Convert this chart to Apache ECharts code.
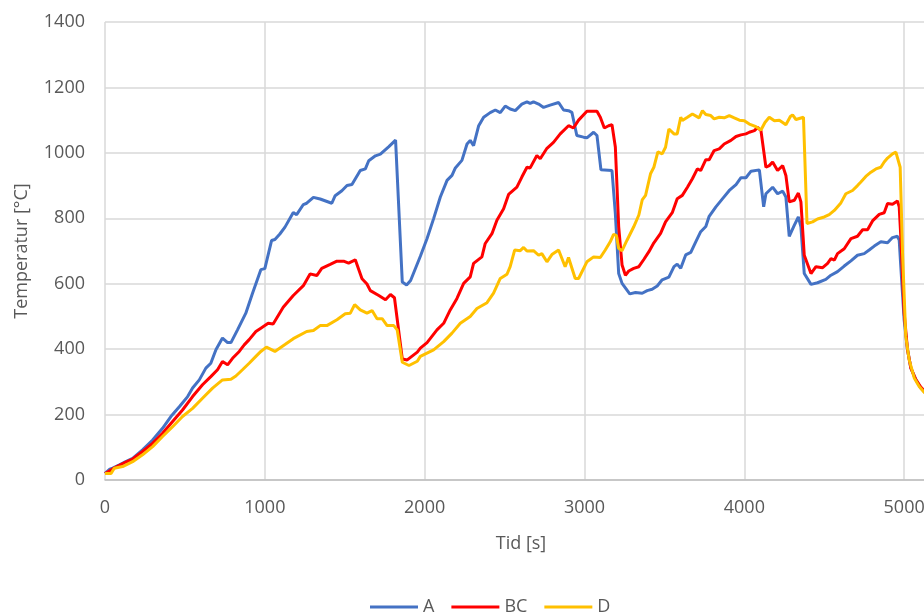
<!DOCTYPE html>
<html>
<head>
<meta charset="utf-8">
<script src="https://cdn.jsdelivr.net/npm/echarts@6/dist/echarts.min.js"></script>
<style>
  html, body { margin: 0; padding: 0; background: #fff; }
  #chart { width: 924px; height: 614px; }
</style>
</head>
<body>
<div id="chart"></div>
<script>
// Tid [s] and temperatur [°C] for each measuring point
const timeA = [0,30,48,90,130,173,235,298,360,412,465,517,548,590,631,662,694,735,767,788,829,881,923,975,1000,1042,1063,1094,1126,1178,1199,1241,1262,1304,1346,1419,1440,1482,1514,1545,1597,1629,1650,1692,1723,1776,1818,1860,1887,1912,1973,2015,2056,2098,2140,2171,2192,2233,2265,2285,2306,2338,2369,2410,2442,2473,2504,2535,2567,2608,2640,2660,2681,2713,2744,2785,2838,2869,2900,2921,2952,2994,3015,3057,3078,3103,3172,3193,3214,3235,3283,3319,3361,3392,3423,3455,3486,3528,3560,3580,3602,3633,3665,3696,3727,3759,3780,3822,3864,3906,3948,3979,4010,4042,4094,4121,4135,4177,4208,4240,4260,4281,4313,4338,4354,4375,4417,4458,4510,4542,4583,4625,4667,4708,4750,4781,4813,4854,4896,4927,4958,4969,4979,5000,5021,5042,5073,5104,5129];
const tempA = [20,33,36,46,56,66,92,122,158,194,224,255,281,306,342,357,398,434,420,420,459,510,571,643,646,732,735,752,773,818,811,842,846,864,859,846,869,884,900,903,946,951,976,991,996,1019,1039,605,596,610,684,738,799,865,916,931,954,977,1027,1038,1022,1083,1109,1123,1131,1123,1143,1134,1129,1149,1156,1151,1156,1149,1139,1146,1154,1131,1129,1124,1053,1048,1046,1063,1053,948,946,814,631,601,569,573,571,579,583,593,612,620,652,660,647,688,696,728,759,775,806,835,860,885,903,924,924,944,948,835,875,895,875,883,865,745,779,804,774,631,598,603,613,626,637,654,670,687,692,703,715,728,725,741,745,733,652,489,398,342,307,281,268];

const timeBC = [0,30,48,90,130,173,235,298,360,423,485,548,610,662,704,735,767,798,840,871,902,944,975,1000,1021,1052,1115,1178,1241,1283,1325,1356,1409,1451,1493,1524,1566,1608,1639,1660,1713,1755,1786,1811,1860,1891,1954,1973,2015,2077,2119,2160,2202,2244,2285,2306,2358,2379,2421,2452,2494,2525,2577,2608,2640,2660,2702,2723,2765,2806,2848,2900,2931,2963,3015,3078,3099,3124,3151,3172,3193,3214,3235,3256,3277,3308,3340,3371,3403,3434,3476,3507,3549,3580,3612,3644,3675,3706,3727,3759,3780,3811,3843,3874,3916,3948,3979,4010,4031,4063,4083,4104,4135,4156,4177,4208,4240,4260,4281,4313,4338,4354,4375,4417,4448,4490,4521,4542,4563,4583,4625,4667,4708,4740,4771,4802,4844,4875,4896,4927,4958,4969,4979,5000,5021,5042,5073,5104,5129];
const tempBC = [20,28,34,45,55,64,87,112,143,179,214,255,291,316,337,362,352,372,393,413,429,454,464,472,479,477,528,564,594,630,625,647,659,669,669,663,673,615,599,579,564,551,567,557,370,367,391,403,420,459,479,520,555,601,621,662,682,723,753,794,829,873,895,926,956,954,992,982,1014,1032,1058,1083,1076,1100,1127,1127,1109,1076,1083,1086,1018,774,657,626,639,647,652,674,698,725,754,789,817,860,870,895,921,951,946,979,979,1007,1012,1027,1038,1050,1055,1058,1063,1068,1078,1068,956,961,972,946,961,931,850,855,877,850,687,631,652,649,662,677,672,692,707,738,745,765,765,792,812,817,845,843,853,835,743,510,398,342,307,284,271];

const timeD = [0,38,58,110,173,235,298,360,423,485,548,610,673,735,788,819,860,902,944,975,1010,1063,1126,1178,1262,1304,1346,1388,1451,1503,1535,1562,1597,1639,1671,1702,1734,1765,1807,1828,1860,1902,1954,1973,2056,2119,2171,2223,2285,2327,2390,2431,2473,2515,2535,2563,2598,2619,2640,2681,2713,2733,2765,2796,2838,2879,2900,2942,2963,3015,3057,3099,3130,3161,3182,3199,3214,3235,3266,3308,3340,3361,3382,3413,3434,3459,3486,3507,3528,3539,3560,3580,3602,3612,3644,3675,3717,3738,3759,3790,3811,3843,3874,3906,3937,3969,4000,4031,4073,4104,4129,4156,4188,4219,4240,4260,4288,4302,4323,4370,4392,4427,4458,4500,4531,4563,4604,4635,4677,4708,4729,4760,4792,4823,4854,4875,4896,4927,4948,4958,4975,4990,5010,5031,5063,5094,5129];
const tempD = [20,20,36,41,56,77,102,133,163,194,219,250,281,306,308,318,337,357,378,393,406,393,414,432,454,457,472,472,490,508,510,536,520,510,518,493,493,472,472,459,360,350,363,378,398,423,449,479,500,524,542,571,616,629,652,703,701,711,700,701,687,692,667,689,703,652,680,616,616,667,682,680,703,728,751,748,708,701,733,774,810,856,870,936,956,1003,997,1017,1073,1078,1058,1058,1109,1099,1109,1119,1107,1129,1117,1114,1104,1109,1107,1114,1107,1100,1098,1088,1080,1070,1093,1109,1098,1100,1093,1086,1111,1116,1102,1109,784,789,798,804,811,824,847,875,885,900,911,928,941,951,956,972,984,997,1002,999,956,692,439,368,312,286,266];

const seriesNames = ['A', 'BC', 'D'];
const seriesColors = ['#4472C4', '#FF0000', '#FFC000'];
const yTicks = { min: 0, max: 1400, step: 200 };
const xTicks = { min: 0, max: 6000, step: 1000 };

const pairs = (t, v) => t.map((x, i) => [x, v[i]]);
const seriesData = [pairs(timeA, tempA), pairs(timeBC, tempBC), pairs(timeD, tempD)];

const textColor = '#595959';
const fontFamily = '"Open Sans", "Noto Sans", sans-serif';
const plain = v => String(v);

const chart = echarts.init(document.getElementById('chart'), null, { renderer: 'canvas' });

chart.setOption({
  animation: false,
  backgroundColor: '#ffffff',
  textStyle: { fontFamily: fontFamily, color: textColor },
  // the plot runs past the right edge of the page; 6000 s lies off-screen
  grid: { left: 105, top: 22, width: 959, height: 458, containLabel: false, outerBoundsMode: 'none' },
  xAxis: {
    type: 'value',
    min: xTicks.min, max: xTicks.max, interval: xTicks.step,
    axisLine: { show: true, lineStyle: { color: '#bfbfbf', width: 1.5 } },
    axisTick: { show: false },
    axisLabel: { color: textColor, fontSize: 18, fontFamily: fontFamily, margin: 19, formatter: plain },
    splitLine: { show: true, lineStyle: { color: '#d9d9d9', width: 1.5 } }
  },
  yAxis: {
    type: 'value',
    min: yTicks.min, max: yTicks.max, interval: yTicks.step,
    axisLine: { show: false },
    axisTick: { show: false },
    axisLabel: { color: textColor, fontSize: 18, fontFamily: fontFamily, margin: 20, formatter: plain },
    splitLine: { show: true, lineStyle: { color: '#d9d9d9', width: 1.5 } }
  },
  legend: {
    left: 365, top: 593,
    icon: 'rect', itemWidth: 48, itemHeight: 3, itemGap: 17,
    textStyle: { color: textColor, fontSize: 18, fontFamily: fontFamily },
    data: seriesNames
  },
  graphic: [
    {
      type: 'text', x: 521, y: 544,
      style: { text: 'Tid [s]', fill: textColor, font: '18px ' + fontFamily, textAlign: 'center', textVerticalAlign: 'middle' }
    },
    {
      type: 'text', x: 22, y: 251, rotation: Math.PI / 2,
      style: { text: 'Temperatur [°C]', fill: textColor, font: '18px ' + fontFamily, textAlign: 'center', textVerticalAlign: 'middle' }
    }
  ],
  series: seriesNames.map((name, i) => ({
    name: name,
    type: 'line',
    data: seriesData[i],
    showSymbol: false,
    symbol: 'none',
    smooth: false,
    clip: true,
    lineStyle: { color: seriesColors[i], width: 3 },
    itemStyle: { color: seriesColors[i] }
  }))
});
</script>
</body>
</html>
